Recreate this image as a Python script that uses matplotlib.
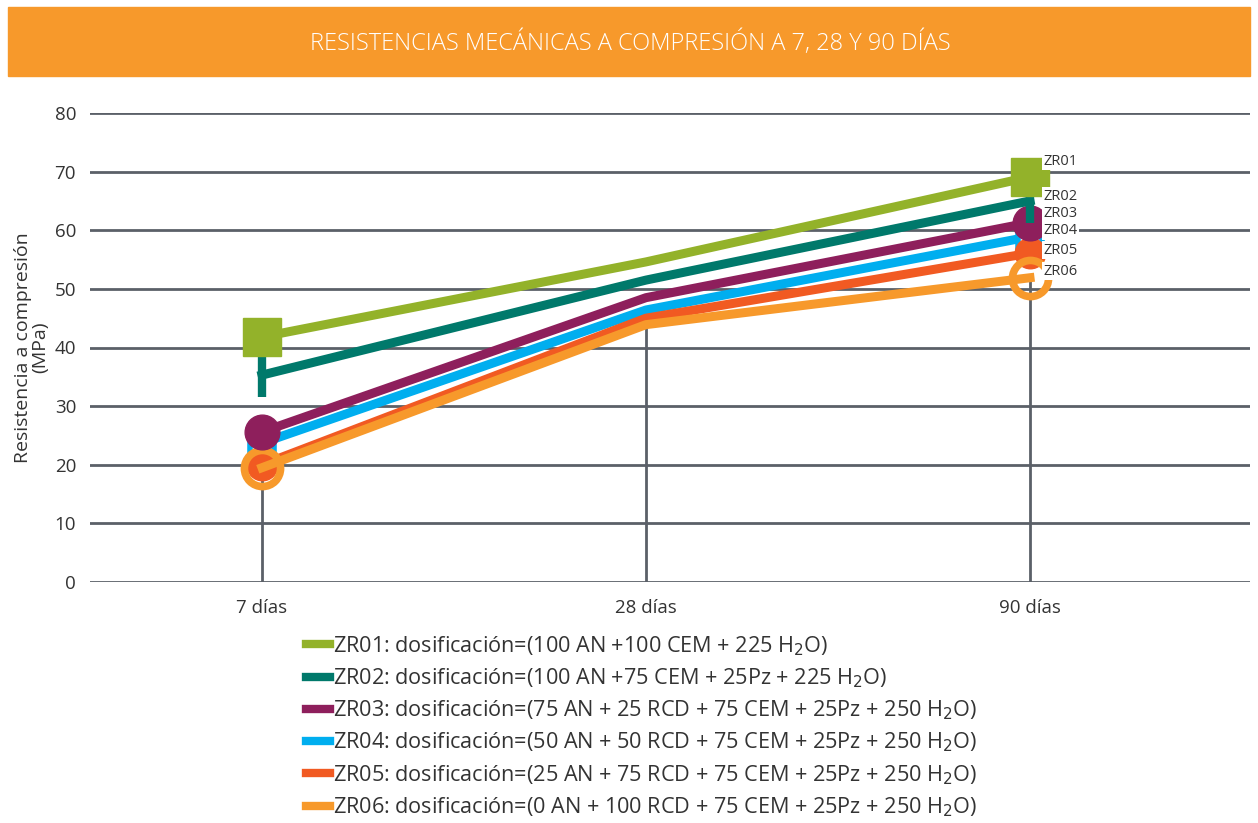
import matplotlib
matplotlib.use("Agg")
import matplotlib.pyplot as plt
from matplotlib.lines import Line2D
from matplotlib.patches import Rectangle

plt.rcParams['font.family'] = ['Open Sans', 'DejaVu Sans']

title = "RESISTENCIAS MECÁNICAS A COMPRESIÓN A 7, 28 Y 90 DÍAS"
categories = ["7 días", "28 días", "90 días"]
series_names = ["ZR01", "ZR02", "ZR03", "ZR04", "ZR05", "ZR06"]
zr01 = [41.8, 54.6, 69.1]
zr02 = [35.3, 51.5, 65.0]
zr03 = [25.6, 48.5, 61.3]
zr04 = [23.7, 46.4, 58.9]
zr05 = [20.0, 45.0, 56.1]
zr06 = [19.5, 43.9, 51.9]
legend_labels = [
    "ZR01: dosificación=(100 AN +100 CEM + 225 H$_2$O)",
    "ZR02: dosificación=(100 AN +75 CEM + 25Pz + 225 H$_2$O)",
    "ZR03: dosificación=(75 AN + 25 RCD + 75 CEM + 25Pz + 250 H$_2$O)",
    "ZR04: dosificación=(50 AN + 50 RCD + 75 CEM + 25Pz + 250 H$_2$O)",
    "ZR05: dosificación=(25 AN + 75 RCD + 75 CEM + 25Pz + 250 H$_2$O)",
    "ZR06: dosificación=(0 AN + 100 RCD + 75 CEM + 25Pz + 250 H$_2$O)",
]
end_label_y = [71.8, 65.8, 62.9, 59.9, 56.6, 53.0]
yticks = [0, 10, 20, 30, 40, 50, 60, 70, 80]

data = [zr01, zr02, zr03, zr04, zr05, zr06]
colors = ["#93B22A", "#00796B", "#8E1F5C", "#00AEEF", "#F15A22", "#F7992B"]
grid_c = "#5B6068"
txt_c = "#333333"

fig = plt.figure(figsize=(12.58, 8.23), dpi=100)
fig.patches.append(Rectangle((8/1258, 1-76/823), 1242/1258, 69/823,
                             transform=fig.transFigure, color="#F7992B", zorder=0))
fig.text(630/1258, 1-43/823, title, color="white", fontsize=17,
         ha="center", va="center", fontweight="light")

ax = fig.add_axes([90/1258, 1-582/823, 1160/1258, 469/823])
x = list(range(len(categories)))
ax.set_xlim(-0.448, 2.573)
ax.set_ylim(0, 80)
for s in ax.spines.values():
    s.set_visible(False)
for yv in yticks:
    ax.axhline(yv, color=grid_c, lw=2, zorder=1)
mins = [min(d[i] for d in data) for i in x]
ax.vlines(x, 0, mins, color=grid_c, lw=2, zorder=1)

lw = 6.5
me = [0, 2]
ax.plot(x, zr04, color=colors[3], lw=lw, marker="s", ms=17, mfc="white",
        mec=colors[3], mew=4, zorder=3, clip_on=False, markevery=me)
ax.plot(x, zr05, color=colors[4], lw=lw, marker="o", ms=22, mfc=colors[4],
        mec=colors[4], zorder=4, clip_on=False, markevery=me)
ax.plot(x, zr06, color=colors[5], lw=lw, marker="o", ms=26, mfc="none",
        mec=colors[5], mew=5.5, zorder=5, clip_on=False, markevery=me)
ax.plot(x, zr03, color=colors[2], lw=lw, marker="o", ms=25, mfc=colors[2],
        mec=colors[2], zorder=6, clip_on=False, markevery=me)
ax.plot(x, zr02, color=colors[1], lw=lw, marker="|", ms=32, mew=6,
        mec=colors[1], zorder=7, clip_on=False, markevery=me)
ax.plot(x, zr01, color=colors[0], lw=lw, marker="s", ms=28, mfc=colors[0],
        mec=colors[0], zorder=8, clip_on=False, markevery=me)

for name, yv in zip(series_names, end_label_y):
    ax.text(2.035, yv, name, fontsize=10.5, color=txt_c, va="center", ha="left",
            zorder=9, bbox=dict(facecolor="white", edgecolor="none", pad=1))

ax.set_yticks(yticks)
ax.set_xticks(x)
ax.set_xticklabels(categories)
ax.tick_params(axis="both", length=0, labelsize=13.5, colors=txt_c)
ax.tick_params(axis="y", pad=10)
ax.tick_params(axis="x", pad=12)
ax.set_ylabel("Resistencia a compresión\n(MPa)", fontsize=14, color=txt_c,
              labelpad=4, linespacing=0.95)

handles = [Line2D([0], [0], color=c, lw=6) for c in colors]
fig.legend(handles, legend_labels, loc="upper left",
           bbox_to_anchor=(306/1258, 1-634/823), frameon=False, fontsize=15.6,
           handlelength=1.1, handletextpad=0.15, labelspacing=0.40,
           borderaxespad=0, borderpad=0, labelcolor=txt_c)

fig.savefig("out.png", dpi=100)
